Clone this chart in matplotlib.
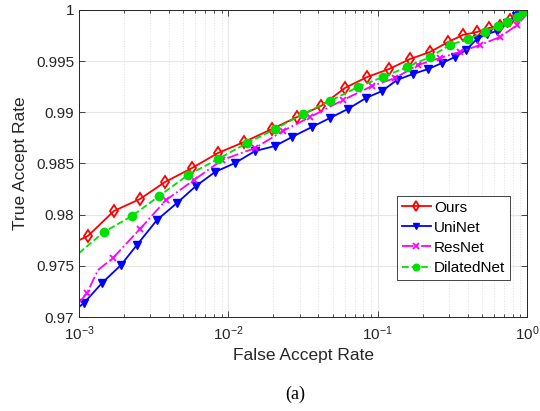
import matplotlib
matplotlib.use("Agg")
import matplotlib.pyplot as plt
from matplotlib.ticker import LogLocator, NullFormatter

plt.rcParams['font.family'] = ['Liberation Sans', 'DejaVu Sans']

# ROC points (false accept rate, true accept rate) for each model
ours_far = [0.001, 0.001148, 0.001714, 0.002559, 0.003767, 0.005715, 0.008531,
            0.01274, 0.01959, 0.02884, 0.04178, 0.06039, 0.08492, 0.1191,
            0.1648, 0.2244, 0.2958, 0.3724, 0.4624, 0.5572, 0.6592, 0.7691,
            0.8570, 0.9705, 1.0]
ours_tar = [0.9775, 0.97792, 0.98036, 0.98153, 0.98319, 0.98456, 0.98603,
            0.9871, 0.98837, 0.98954, 0.99062, 0.99238, 0.99345, 0.99423,
            0.99521, 0.9959, 0.99687, 0.99756, 0.99785, 0.99824, 0.99844,
            0.99902, 0.99941, 1.0, 1.0]

uninet_far = [0.001, 0.001079, 0.001426, 0.00191, 0.002443, 0.003327, 0.004529,
              0.006067, 0.008147, 0.01109, 0.0151, 0.02056, 0.02667, 0.03631,
              0.04797, 0.06324, 0.08356, 0.1069, 0.1346, 0.1726, 0.2173,
              0.2698, 0.3296, 0.3908, 0.4624, 0.5395, 0.6295, 0.7345, 0.8433,
              0.9397, 1.0]
uninet_tar = [0.97098, 0.97137, 0.97332, 0.97508, 0.97704, 0.97948, 0.98114,
              0.9828, 0.98417, 0.98505, 0.98622, 0.98671, 0.98759, 0.98857,
              0.98945, 0.99033, 0.9914, 0.99208, 0.99316, 0.99375, 0.99423,
              0.99482, 0.99541, 0.99609, 0.99717, 0.99765, 0.99795, 0.99873,
              0.99941, 1.0, 1.0]

resnet_far = [0.001, 0.001132, 0.00134, 0.001689, 0.002559, 0.003828, 0.005888,
              0.009078, 0.0151, 0.02323, 0.03524, 0.05861, 0.09162, 0.1306,
              0.1862, 0.2612, 0.3556, 0.4842, 0.6592, 0.857, 1.0]
resnet_tar = [0.97137, 0.97235, 0.97459, 0.97577, 0.9786, 0.98143, 0.98339,
              0.98534, 0.98651, 0.98818, 0.98954, 0.9912, 0.99257, 0.99335,
              0.99463, 0.99531, 0.9959, 0.99658, 0.99736, 0.99853, 0.99961]

dilated_far = [0.001, 0.001469, 0.002265, 0.003436, 0.00537, 0.008531, 0.01334,
               0.02056, 0.03162, 0.04797, 0.07379, 0.1086, 0.157, 0.2244,
               0.3048, 0.4027, 0.5236, 0.6397, 0.7345, 0.857, 0.9397, 1.0]
dilated_tar = [0.97625, 0.97831, 0.97987, 0.98182, 0.98388, 0.98544, 0.987,
               0.98837, 0.98984, 0.99111, 0.99248, 0.99345, 0.99443, 0.99541,
               0.99658, 0.99717, 0.99785, 0.99844, 0.99883, 0.99932, 0.9998, 1.0]

yticks = [0.97, 0.975, 0.98, 0.985, 0.99, 0.995, 1.0]
ytick_labels = ['0.97', '0.975', '0.98', '0.985', '0.99', '0.995', '1']

fig = plt.figure(figsize=(5.4, 4.11), dpi=100)
ax = fig.add_axes([0.1463, 0.2287, 0.8297, 0.747])

ax.plot(ours_far, ours_tar, '-', color='#ff0000', lw=1.3, marker='d',
        ms=6, mfc='none', mew=1.3, markevery=list(range(1, len(ours_far) - 1)),
        label='Ours')
ax.plot(uninet_far, uninet_tar, '-', color='#0000ff', lw=1.3, marker='v',
        ms=6, markevery=list(range(1, len(uninet_far) - 1)), label='UniNet')
ax.plot(resnet_far, resnet_tar, '-.', color='#ff00ff', lw=1.3, marker='x',
        ms=5, mew=1.3, markevery=[1] + list(range(3, len(resnet_far) - 1)),
        label='ResNet')
ax.plot(dilated_far, dilated_tar, '--', color='#00e000', lw=1.3, marker='o',
        ms=6, markevery=list(range(1, len(dilated_far) - 1)),
        label='DilatedNet')

ax.set_xscale('log')
ax.set_xlim(1e-3, 1)
ax.set_ylim(0.97, 1.0)
ax.set_yticks(yticks)
ax.set_yticklabels(ytick_labels)
ax.xaxis.set_minor_locator(LogLocator(base=10, subs=range(2, 10), numticks=20))
ax.xaxis.set_minor_formatter(NullFormatter())

ax.grid(True, which='major', color='#e6e6e6', lw=0.8, ls='-')
ax.grid(True, which='minor', axis='x', color='#e0e0e0', lw=0.7, ls=':')
ax.set_axisbelow(True)

ax.tick_params(which='both', direction='in', top=True, right=True,
               colors='#262626', labelsize=11, width=0.6)
ax.tick_params(which='major', length=4)
ax.tick_params(which='minor', length=2.5)
ax.tick_params(axis='x', which='major', pad=5)
for s in ax.spines.values():
    s.set_color('#262626')
    s.set_linewidth(0.7)

ax.set_xlabel('False Accept Rate', fontsize=12.5, color='#262626', labelpad=4)
ax.set_ylabel('True Accept Rate', fontsize=12.5, color='#262626', labelpad=6)

leg = ax.legend(loc='upper left', bbox_to_anchor=(0.71, 0.394), fontsize=11,
                frameon=True, fancybox=False, framealpha=1, edgecolor='#262626',
                borderpad=0.3, labelspacing=0.4, handlelength=1.9,
                handletextpad=0.2, borderaxespad=0, markerscale=0.8)
leg.get_frame().set_linewidth(0.6)

fig.text(0.546, 0.04, '(a)', ha='center', va='center', fontsize=13,
         family=['Liberation Serif', 'DejaVu Serif'])

fig.savefig('out.png', dpi=100)
